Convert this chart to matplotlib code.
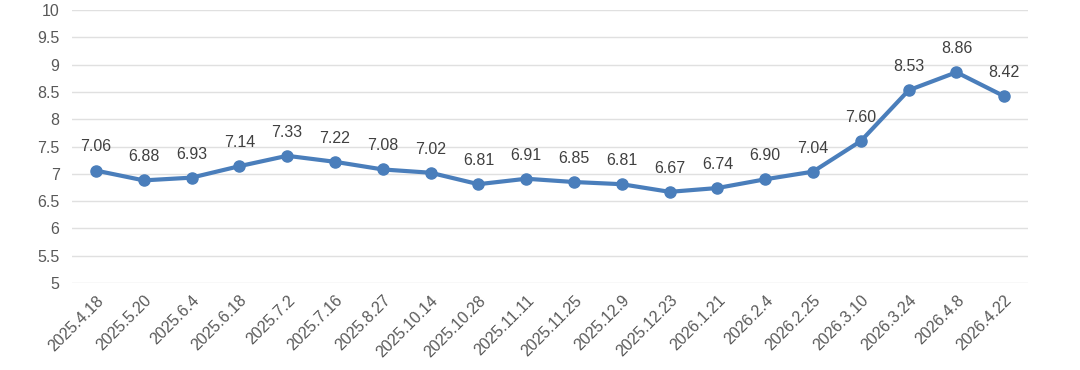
import matplotlib.pyplot as plt

dates = ['2025.4.18', '2025.5.20', '2025.6.4', '2025.6.18', '2025.7.2', '2025.7.16',
         '2025.8.27', '2025.10.14', '2025.10.28', '2025.11.11', '2025.11.25', '2025.12.9',
         '2025.12.23', '2026.1.21', '2026.2.4', '2026.2.25', '2026.3.10', '2026.3.24',
         '2026.4.8', '2026.4.22']
values = [7.06, 6.88, 6.93, 7.14, 7.33, 7.22, 7.08, 7.02, 6.81, 6.91, 6.85, 6.81,
          6.67, 6.74, 6.90, 7.04, 7.60, 8.53, 8.86, 8.42]
yticks = [5, 5.5, 6, 6.5, 7, 7.5, 8, 8.5, 9, 9.5, 10]
ylabels = ['5', '5.5', '6', '6.5', '7', '7.5', '8', '8.5', '9', '9.5', '10']

plt.rcParams['font.family'] = ['Liberation Sans', 'DejaVu Sans']
txt = '#595959'
blue = '#4a7ebb'

fig = plt.figure(figsize=(10.8, 3.7), dpi=100)
ax = fig.add_axes([0.0667, 0.235, 0.8853, 0.738])

x = list(range(len(dates)))
ax.plot(x, values, color=blue, linewidth=3, marker='o', markersize=8, zorder=3)
for i, v in zip(x, values):
    ax.annotate('%.2f' % v, (i, v), xytext=(0, 17), textcoords='offset points',
                ha='center', va='center', fontsize=11.5, color='#404040')

ax.set_xlim(-0.5, len(dates) - 0.5)
ax.set_ylim(5, 10)
ax.set_yticks(yticks)
ax.set_yticklabels(ylabels)
ax.set_xticks(x)
ax.set_xticklabels(dates, rotation=45, ha='right', rotation_mode='anchor')
ax.tick_params(axis='both', length=0, labelsize=11.5, colors=txt)
ax.tick_params(axis='y', pad=9)
ax.tick_params(axis='x', pad=7)
ax.grid(axis='y', color='#e0e0e0', linewidth=1.0)
ax.set_axisbelow(True)
for s in ax.spines.values():
    s.set_visible(False)

fig.savefig('out.png', dpi=100)
